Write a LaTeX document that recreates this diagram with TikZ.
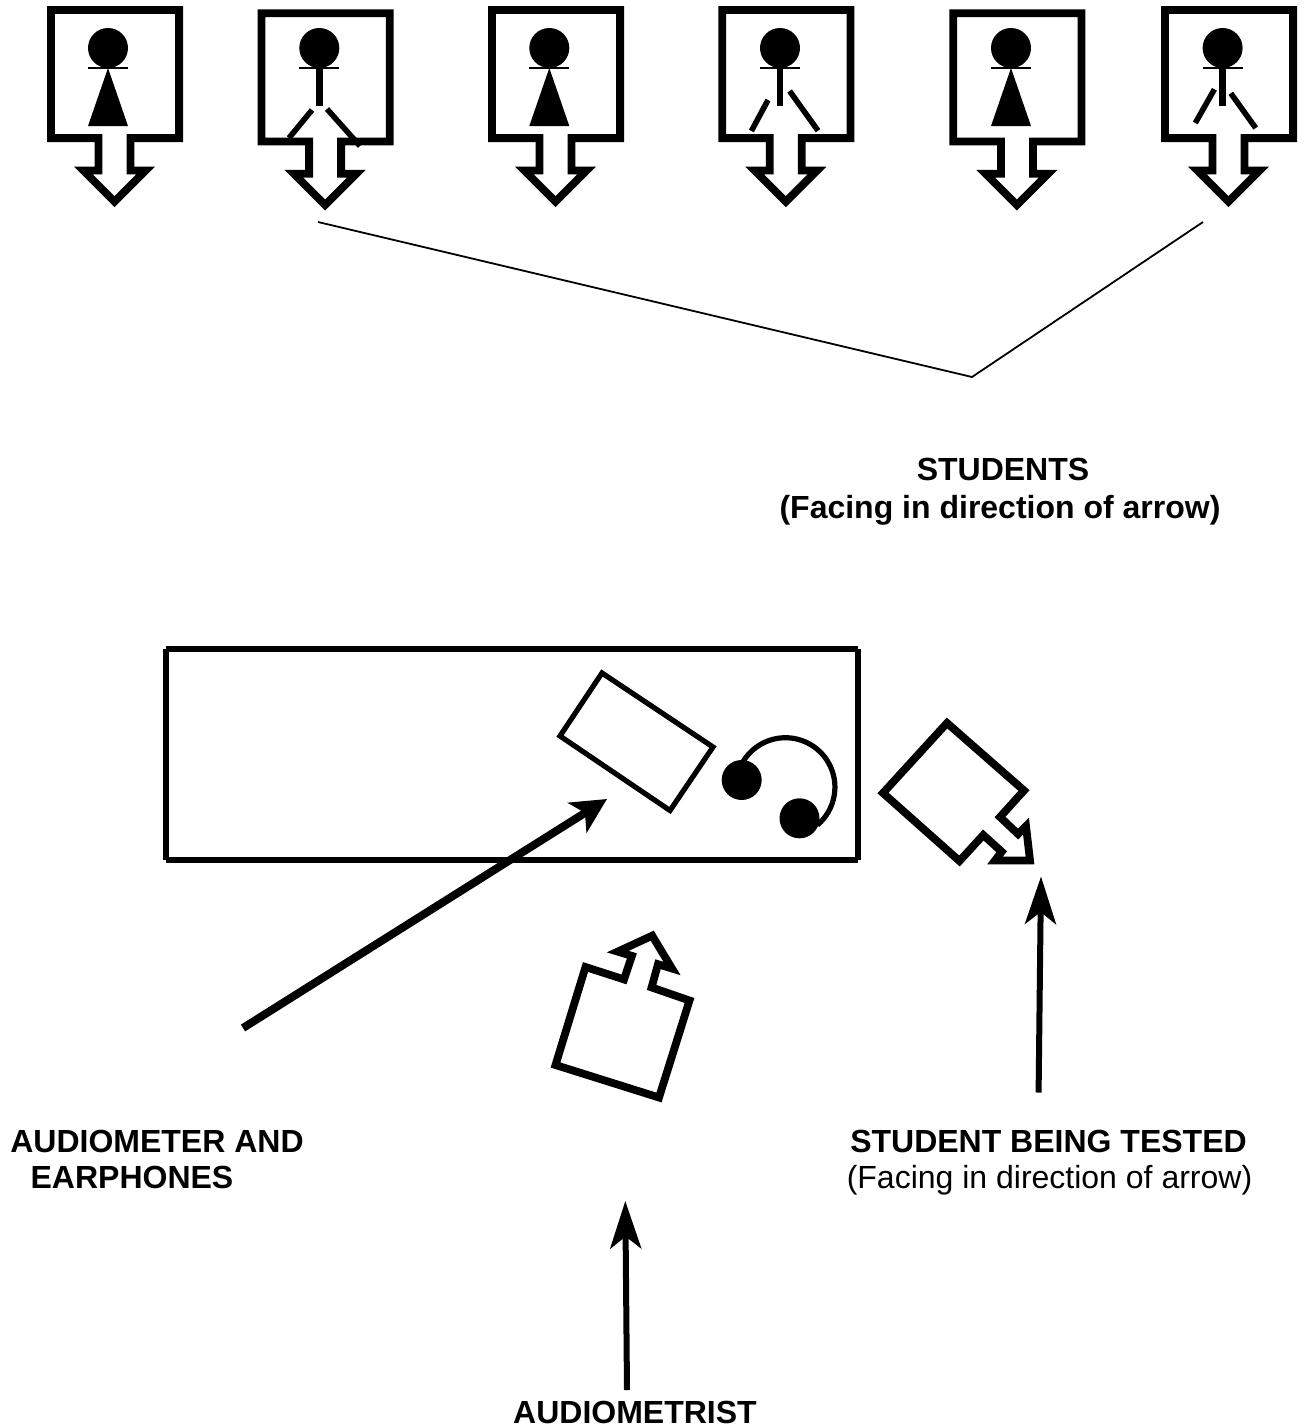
\documentclass[tikz,border=0pt]{standalone}
\usepackage{fontspec}
\setmainfont{Liberation Sans}
\usetikzlibrary{arrows.meta}
\tikzset{
  thick outline/.style={line width=7.8pt,line join=miter,miter limit=12},
  table outline/.style={line width=5.6pt},
  device outline/.style={line width=5.2pt,line join=miter},
  head fig/.style={fill=black},
  limb/.style={line width=5.6pt},
  pointer/.style={line width=6pt,-{Stealth[length=47.5pt,width=31pt,inset=12pt]}},
  wide pointer/.style={line width=8pt,-{Stealth[length=35pt,width=35pt,inset=9pt]}},
  bracket/.style={line width=1.8pt,line join=miter},
  caption/.style={anchor=base,inner sep=0pt,font=\fontsize{32pt}{38pt}\selectfont},
  bold caption/.style={caption,font=\fontsize{32pt}{38pt}\selectfont\bfseries}
}
% #1 left outer x, #2 top outer y
\newcommand{\studentbox}[2]{%
  \draw[thick outline,shift={(#1,#2)}]
    (3.9,3.9) -- (132.1,3.9) -- (132.1,132.1) -- (83.5,132.1) -- (83.5,164.5)
    -- (98.7,164.5) -- (67.5,195.7) -- (36.3,164.5) -- (51.5,164.5)
    -- (51.5,132.1) -- (3.9,132.1) -- cycle;}
% #1 head centre x
\newcommand{\figurehead}[1]{%
  \fill[head fig] (#1,48) circle (20);
  \draw[line width=2.2pt] (#1-20,67.7) -- (#1+20,67.7);}
\newcommand{\figureF}[1]{%
  \figurehead{#1}
  \fill[head fig] (#1,68) -- (#1+20,126) -- (#1-20,126) -- cycle;}
\newcommand{\figureM}[1]{%
  \figurehead{#1}
  \draw[line width=6.5pt] (#1,68) -- (#1,106);}
\begin{document}
\begin{tikzpicture}[x=1pt,y=-1pt]
\useasboundingbox (0,0) rectangle (1310,1428);
\fill[white] (0,0) rectangle (1310,1428);

% row of students
\studentbox{47}{6}      \figureF{108}
\studentbox{257.6}{9.3} \figureM{319.3}
\draw[limb] (312,110) -- (289,138);
\draw[limb] (327,109) -- (360,146);
\studentbox{488}{6}     \figureF{549.3}
\studentbox{718.3}{6}   \figureM{780}
\draw[limb] (768,100) -- (751.4,131);
\draw[limb] (789.6,91) -- (818,130.7);
\studentbox{949.4}{9.3} \figureF{1011}
\studentbox{1161}{6}    \figureM{1222.6}
\draw[limb] (1214.4,89.3) -- (1195.3,123);
\draw[limb] (1230.8,93.3) -- (1255.7,128);

% bracket
\coordinate (brA) at (318,222);
\coordinate (brB) at (972,377);
\coordinate (brC) at (1203,222);
\draw[bracket] (brA) -- (brB) -- (brC);

\node[bold caption] (studentsA) at (1003,480) {STUDENTS};
\node[bold caption] (studentsB) at (1000,518) {(Facing in direction of arrow)};

% table
\draw[table outline]
  (166,648.7) -- (857.5,648.7) (166,860) -- (857.5,860)
  (165.7,649.3) -- (165.7,860) (857.7,649.3) -- (857.7,860);

% audiometer
\draw[device outline] (602,673) -- (713,747) -- (670,810.5) -- (560,736) -- cycle;

% earphones
\draw[line width=5.2pt] (743,761.7) arc[start angle=149,end angle=-50,x radius=49.5,y radius=-49.5];
\fill[head fig] (741.7,780) circle (20);
\fill[head fig] (799.5,818.3) circle (20);

% student being tested
\draw[thick outline]
  (947,723) -- (1024,790.5) -- (1000,817) -- (1018,834) -- (1026,826) -- (1030,860.5)
  -- (995,860.5) -- (1001.7,851.7) -- (983.3,835) -- (959.5,861) -- (883,793) -- cycle;

% audiometrist
\draw[thick outline]
  (585.5,967) -- (624,979.4) -- (631.9,955.9) -- (617.7,951.6) -- (652.2,935.7) -- (672,968.5)
  -- (658,964.2) -- (651.6,987.4) -- (689.5,1000.5) -- (659,1097.5) -- (555.5,1065) -- cycle;

% pointers
\coordinate (pA1) at (243,1028);
\coordinate (pA2) at (607,799);
\draw[wide pointer] (pA1) -- (pA2);
\coordinate (pB1) at (1038.6,1092.5);
\coordinate (pB2) at (1041,876.5);
\draw[pointer] (pB1) -- (pB2);
\coordinate (pC1) at (627,1390);
\coordinate (pC2) at (625.3,1201);
\draw[pointer] (pC1) -- (pC2);

% labels
\node[bold caption] (audioA) at (157,1152) {AUDIOMETER AND};
\node[bold caption] (audioB) at (132,1188) {EARPHONES};
\node[bold caption] (testedA) at (1048.5,1152) {STUDENT BEING TESTED};
\node[caption] (testedB) at (1049.5,1188) {(Facing in direction of arrow)};
\node[bold caption] (audiometrist) at (635,1423) {AUDIOMETRIST};
\end{tikzpicture}
\end{document}
